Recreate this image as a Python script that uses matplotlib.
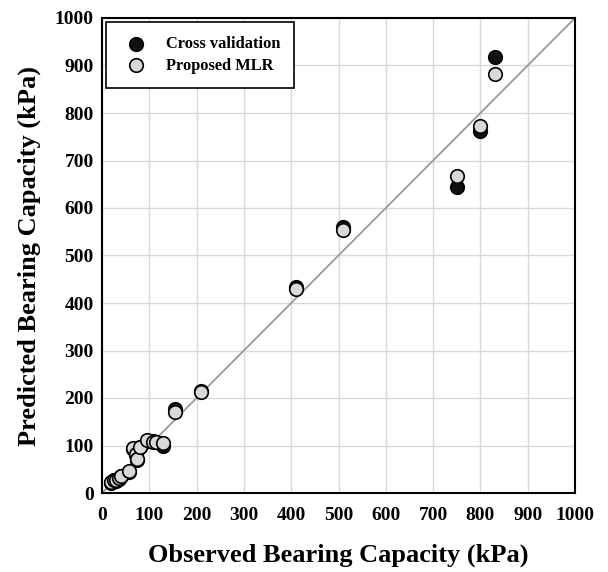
import matplotlib
matplotlib.use("Agg")
import matplotlib.pyplot as plt

observed = [20, 25, 30, 35, 40, 57, 66, 72, 75, 80, 95, 108, 115, 130, 155, 210, 410, 510, 750, 800, 830]
cross_val = [22, 28, 25, 30, 35, 45, 92, 80, 70, 97, 110, 110, 108, 100, 177, 215, 433, 560, 645, 762, 918]
mlr = [24, 27, 28, 32, 36, 46, 95, 82, 72, 97, 112, 108, 108, 106, 170, 213, 430, 553, 667, 772, 883]
ticks = list(range(0, 1001, 100))

plt.rcParams['font.family'] = ['Liberation Serif', 'DejaVu Serif']
plt.rcParams['font.weight'] = 'bold'

fig = plt.figure(figsize=(6.08, 5.72), dpi=100)
ax = fig.add_axes([102/608, 1-493/572, 473/608, 475/572])

ax.plot([0, 1000], [0, 1000], color='#999999', lw=1.3, zorder=2)
ax.scatter(observed, cross_val, s=95, c='#111111', edgecolors='black', linewidths=1.2, zorder=3, label='Cross validation')
ax.scatter(observed, mlr, s=95, c='#d9d9d9', edgecolors='black', linewidths=1.2, zorder=4, label='Proposed MLR')

ax.set_xlim(0, 1000)
ax.set_ylim(0, 1000)
ax.set_xticks(ticks)
ax.set_yticks(ticks)
ax.tick_params(labelsize=14, length=0)
ax.tick_params(axis='x', pad=10)
ax.tick_params(axis='y', pad=6)
for lab in ax.get_xticklabels() + ax.get_yticklabels():
    lab.set_fontweight('bold')
ax.grid(True, color='#d9d9d9', lw=1)
ax.set_axisbelow(True)
for s in ax.spines.values():
    s.set_linewidth(1.5)
    s.set_color('black')

ax.set_xlabel('Observed Bearing Capacity (kPa)', fontsize=19, fontweight='bold', labelpad=14)
ax.set_ylabel('Predicted Bearing Capacity (kPa)', fontsize=19, fontweight='bold', labelpad=10)

leg = ax.legend(loc='upper left', fontsize=11.8, frameon=True, fancybox=False,
                edgecolor='black', framealpha=1, borderpad=0.85, handletextpad=0.8,
                borderaxespad=0.25, labelspacing=0.35, handlelength=2.0)
leg.get_frame().set_linewidth(1.2)
for t in leg.get_texts():
    t.set_fontweight('bold')

fig.savefig('out.png', dpi=100)
